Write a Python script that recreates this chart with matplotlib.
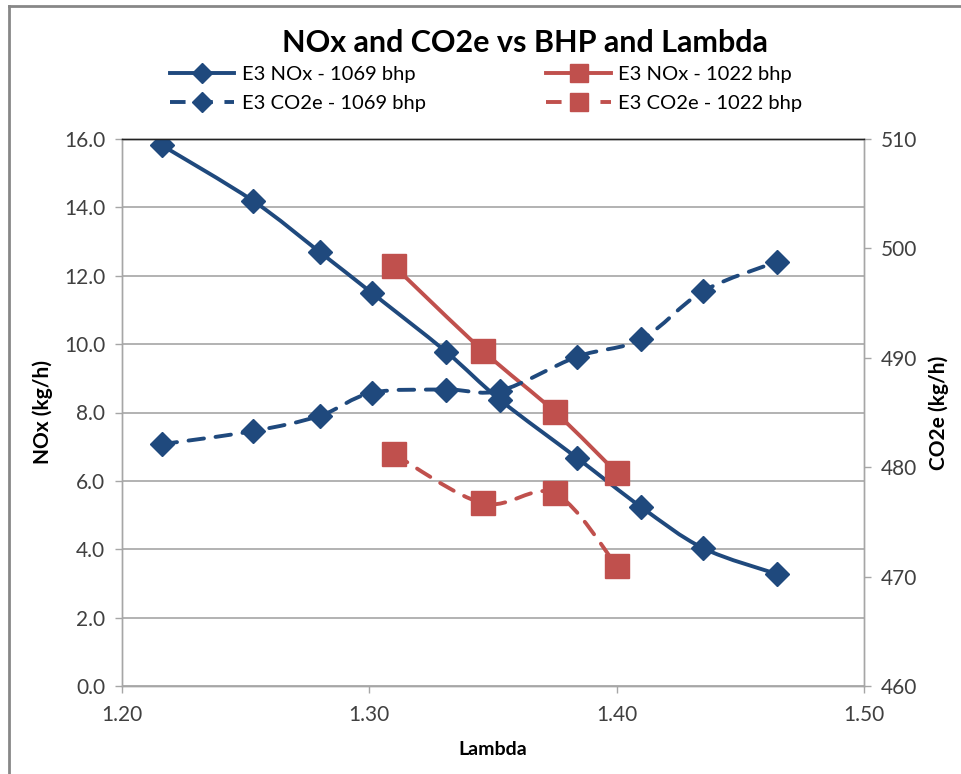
import numpy as np
import matplotlib.pyplot as plt
from matplotlib.path import Path
from matplotlib.patches import PathPatch
from matplotlib.lines import Line2D
from matplotlib.ticker import FormatStrFormatter, MultipleLocator

plt.rcParams['font.family'] = ['Lato', 'DejaVu Sans']

# E3 engine, 1069 bhp
lambda_1069 = [1.216, 1.253, 1.280, 1.301, 1.331, 1.353, 1.384, 1.410, 1.435, 1.465]
nox_1069 = [15.82, 14.19, 12.69, 11.50, 9.78, 8.36, 6.67, 5.23, 4.03, 3.27]
co2e_1069 = [482.1, 483.3, 484.7, 486.8, 487.1, 487.0, 490.1, 491.7, 496.1, 498.8]

# E3 engine, 1022 bhp
lambda_1022 = [1.310, 1.346, 1.375, 1.400]
nox_1022 = [12.28, 9.80, 8.02, 6.24]
co2e_1022 = [481.2, 476.7, 477.6, 471.0]

BLUE = '#1F497D'
RED = '#C0504D'
GRID = '#A6A6A6'
DASH = (0, (4, 3))


def smooth_path(xs, ys):
    # Catmull-Rom style bezier through the points (like a smoothed Excel line)
    p = np.column_stack([xs, ys]).astype(float)
    n = len(p)
    verts = [p[0]]
    codes = [Path.MOVETO]
    for i in range(n - 1):
        p0 = p[max(i - 1, 0)]
        p1 = p[i]
        p2 = p[i + 1]
        p3 = p[min(i + 2, n - 1)]
        verts += [p1 + (p2 - p0) / 6, p2 - (p3 - p1) / 6, p2]
        codes += [Path.CURVE4] * 3
    return Path(verts, codes)


def draw_series(ax, xs, ys, color, ls, marker, ms):
    patch = PathPatch(smooth_path(xs, ys), fill=False, edgecolor=color,
                      linewidth=2.8, linestyle=ls, capstyle='round', zorder=3)
    ax.add_patch(patch)
    ax.plot(xs, ys, linestyle='none', marker=marker, markersize=ms,
            color=color, markeredgecolor=color, zorder=4)


fig = plt.figure(figsize=(9.61, 7.74), dpi=100)
ax = fig.add_axes([122 / 961, 1 - 686 / 774, (864 - 122) / 961, (686 - 139) / 774])
ax2 = ax.twinx()

draw_series(ax, lambda_1069, nox_1069, BLUE, '-', 'D', 12)
draw_series(ax, lambda_1022, nox_1022, RED, '-', 's', 17)
draw_series(ax2, lambda_1069, co2e_1069, BLUE, DASH, 'D', 12)
draw_series(ax2, lambda_1022, co2e_1022, RED, DASH, 's', 17)

ax.set_xlim(1.20, 1.50)
ax.set_ylim(0, 16)
ax2.set_ylim(460, 510)
ax.xaxis.set_major_locator(MultipleLocator(0.1))
ax.yaxis.set_major_locator(MultipleLocator(2))
ax2.yaxis.set_major_locator(MultipleLocator(10))
ax.xaxis.set_major_formatter(FormatStrFormatter('%.2f'))
ax.yaxis.set_major_formatter(FormatStrFormatter('%.1f'))
ax2.yaxis.set_major_formatter(FormatStrFormatter('%d'))

ax.grid(axis='y', color=GRID, linewidth=1.2)
ax.set_axisbelow(True)
for a in (ax, ax2):
    for side in ('left', 'right', 'bottom'):
        a.spines[side].set_color(GRID)
        a.spines[side].set_linewidth(1.0)
    a.spines['top'].set_color('#222222')
    a.spines['top'].set_linewidth(1.0)
    a.tick_params(colors=GRID, labelcolor='#404040', labelsize=15, length=5, width=1)
ax.tick_params(axis='x', pad=9)
ax.tick_params(axis='y', pad=7)
ax2.tick_params(axis='y', pad=7)

ax.set_xlabel('Lambda', fontsize=14, fontweight='bold', labelpad=11)
ax.set_ylabel('NOx (kg/h)', fontsize=15, fontweight='bold', labelpad=8)
ax2.set_ylabel('CO2e (kg/h)', fontsize=15, fontweight='bold', labelpad=8)

fig.text(525 / 961, 1 - 43 / 774, 'NOx and CO2e vs BHP and Lambda',
         ha='center', va='center', fontsize=22, fontweight='bold')

handles = [
    Line2D([], [], color=BLUE, lw=2.8, marker='D', ms=10),
    Line2D([], [], color=BLUE, lw=2.8, ls=DASH, marker='D', ms=10),
    Line2D([], [], color=RED, lw=2.8, marker='s', ms=13),
    Line2D([], [], color=RED, lw=2.8, ls=DASH, marker='s', ms=13),
]
labels = ['E3 NOx - 1069 bhp', 'E3 CO2e - 1069 bhp',
          'E3 NOx - 1022 bhp', 'E3 CO2e - 1022 bhp']
fig.legend(handles, labels, ncol=2, loc='center', bbox_to_anchor=(486 / 961, 1 - 89 / 774),
           frameon=False, fontsize=14.5, handlelength=3.2, handletextpad=0.35,
           columnspacing=6.0, labelspacing=0.55)

# chart frame (left and top edges)
fig.add_artist(Line2D([9 / 961, 9 / 961], [0, 1 - 6 / 774], color='#878787', lw=2,
                      transform=fig.transFigure))
fig.add_artist(Line2D([9 / 961, 1], [1 - 6 / 774, 1 - 6 / 774], color='#878787', lw=2,
                      transform=fig.transFigure))

fig.savefig('out.png', dpi=100)
